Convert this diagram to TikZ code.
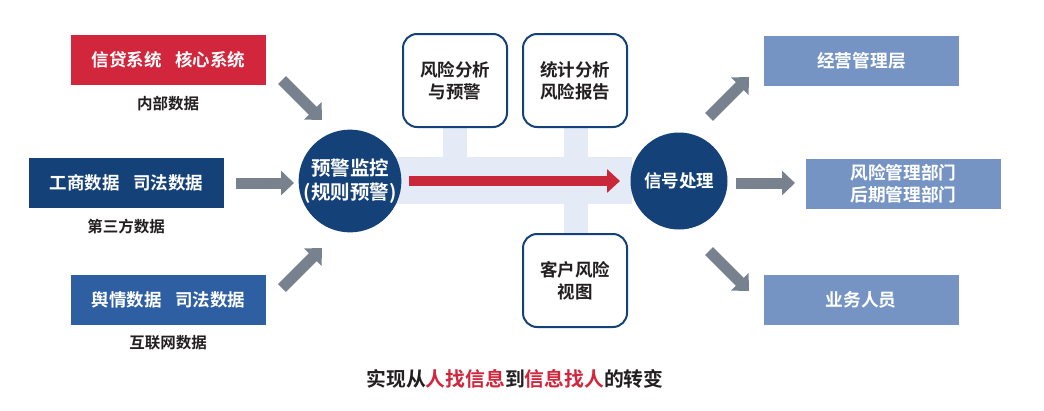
\documentclass[tikz,border=0pt]{standalone}
\usepackage{fontspec}
\setmainfont{Noto Sans CJK SC}[BoldFont={Noto Sans CJK SC Bold}]
\usetikzlibrary{arrows.meta}
\definecolor{cred}{HTML}{D2263C}
\definecolor{cdark}{HTML}{154179}
\definecolor{cmid}{HTML}{2F5FA3}
\definecolor{clight}{HTML}{7594C4}
\definecolor{cband}{HTML}{E5EBF6}
\definecolor{cgray}{HTML}{78828E}
\definecolor{ctext}{HTML}{231F20}
\definecolor{carrow}{HTML}{C8283A}
\tikzset{
  srcbox/.style={minimum width=195pt, minimum height=50pt, inner sep=0pt, text=white, font=\bfseries\fontsize{17.5}{20}\selectfont},
  lbl/.style={text=ctext, font=\bfseries\fontsize{15.5}{18}\selectfont, inner sep=0pt},
  circ/.style={circle, fill=cdark, minimum size=97pt, inner sep=0pt, text=white, align=center},
  rbox/.style={draw=cdark, line width=2pt, rounded corners=14pt, fill=white, minimum width=104pt, minimum height=93pt, inner sep=0pt, align=center, text=ctext, font=\bfseries\fontsize{17.5}{22}\selectfont},
  outbox/.style={fill=clight, minimum width=195pt, minimum height=50pt, inner sep=0pt, text=white, align=center, font=\bfseries\fontsize{17.7}{22}\selectfont},
  garrow/.style={draw=cgray, line width=11pt, -{Triangle[width=24pt,length=13pt]}},
}
\begin{document}
\begin{tikzpicture}[x=1pt,y=-1pt]
\useasboundingbox (0,0) rectangle (1044,410);
% band
\fill[cband] (395,157) rectangle (632,204);
\fill[cband] (443,120) rectangle (467,157);
\fill[cband] (564,120) rectangle (588,240);
% source boxes
\node[srcbox, fill=cred] (s1) at (168.5,60) {信贷系统\hspace{0.75em}核心系统};
\node[lbl] (l1) at (168,104) {内部数据};
\node[srcbox, fill=cdark] (s2) at (126.5,183) {工商数据\hspace{0.75em}司法数据};
\node[lbl] (l2) at (126,227) {第三方数据};
\node[srcbox, fill=cmid] (s3) at (168.5,299.5) {舆情数据\hspace{0.75em}司法数据};
\node[lbl] (l3) at (168,343) {互联网数据};
% circles
\node[circ, font=\bfseries\fontsize{19.5}{24}\selectfont] (c1) at (350,181) {预警监控\\(规则预警)};
\node[circ, font=\bfseries\fontsize{17.5}{22}\selectfont] (c2) at (679,181) {信号处理};
% rounded boxes
\node[rbox] (b1) at (455,80.5) {风险分析\\与预警};
\node[rbox] (b2) at (575,80.5) {统计分析\\风险报告};
\node[rbox] (b3) at (575,280.5) {客户风险\\视图};
% output boxes
\node[outbox] (o1) at (861.5,60.5) {经营管理层};
\node[outbox] (o2) at (903.5,183.5) {风险管理部门\\后期管理部门};
\node[outbox] (o3) at (861,299.5) {业务人员};
% arrow coordinates
\coordinate (a1s) at (282,80);
\coordinate (a1e) at (322,120);
\coordinate (a2s) at (236,183);
\coordinate (a2e) at (294,183);
\coordinate (a3s) at (282,288);
\coordinate (a3e) at (322,248);
\coordinate (r1s) at (709,117);
\coordinate (r1e) at (749,77);
\coordinate (r2s) at (736,183);
\coordinate (r2e) at (795,183);
\coordinate (r3s) at (709,251);
\coordinate (r3e) at (749,291);
\draw[garrow] (a1s) -- (a1e);
\draw[garrow] (a2s) -- (a2e);
\draw[garrow] (a3s) -- (a3e);
\draw[garrow] (r1s) -- (r1e);
\draw[garrow] (r2s) -- (r2e);
\draw[garrow] (r3s) -- (r3e);
% red arrow
\coordinate (ms) at (409,181);
\coordinate (me) at (620,181);
\draw[draw=carrow, line width=10pt, -{Triangle[width=23pt,length=13pt]}] (ms) -- (me);
% caption
\node[text=ctext, font=\bfseries\fontsize{19.8}{22}\selectfont, inner sep=0pt] (cap) at (515,379) {实现从\textcolor{cred}{人找信息}到\textcolor{cred}{信息找人}的转变};
\end{tikzpicture}
\end{document}
